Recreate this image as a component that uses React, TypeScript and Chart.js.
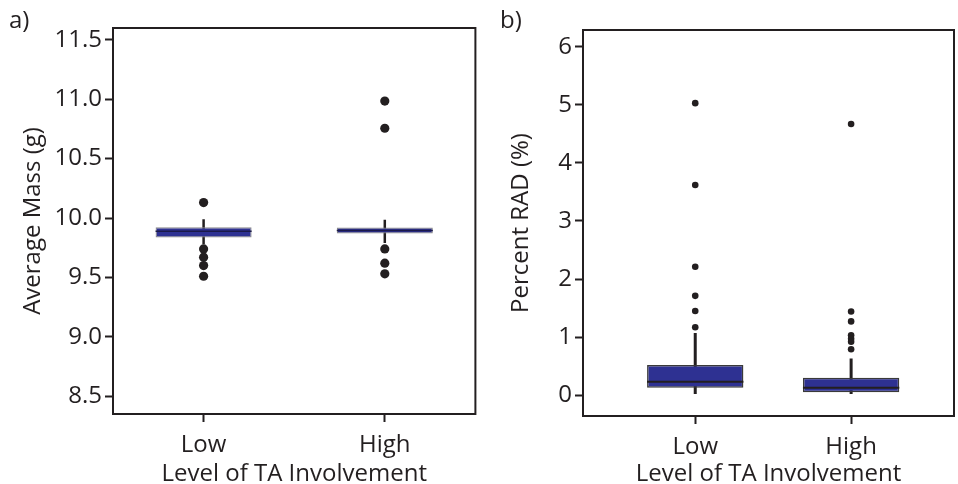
import React, { useEffect, useRef } from "react";
import { Chart, registerables } from "chart.js";

Chart.register(...registerables);

// ---------- data ----------
const CATEGORIES = ["Low", "High"];

// Panel a: Average Mass (g)
const MASS_Q1 = [9.836, 9.87];
const MASS_MEDIAN = [9.888, 9.895];
const MASS_Q3 = [9.922, 9.92];
const MASS_WHISKER_LOW = [9.78, 9.79];
const MASS_WHISKER_HIGH = [9.99, 9.985];
const MASS_OUTLIERS_LOW = [10.13, 9.74, 9.67, 9.6, 9.51];
const MASS_OUTLIERS_HIGH = [10.985, 10.756, 9.74, 9.62, 9.53];
const MASS_TICKS = [8.5, 9.0, 9.5, 10.0, 10.5, 11.0, 11.5];

// Panel b: Percent RAD (%)
const RAD_Q1 = [0.126, 0.05];
const RAD_MEDIAN = [0.23, 0.126];
const RAD_Q3 = [0.517, 0.3];
const RAD_WHISKER_LOW = [0.02, 0.02];
const RAD_WHISKER_HIGH = [1.07, 0.63];
const RAD_OUTLIERS_LOW = [5.03, 3.62, 2.21, 1.71, 1.45, 1.17];
const RAD_OUTLIERS_HIGH = [4.67, 1.44, 1.27, 1.03, 0.97, 0.92, 0.79];
const RAD_TICKS = [0, 1, 2, 3, 4, 5, 6];

const INK = "#231f20";
const BOX_FILL = "#2e3192";
const FONT = "'Open Sans', 'Noto Sans', sans-serif";
const FS = 24;

type PanelCfg = {
  q1: number[];
  med: number[];
  q3: number[];
  wl: number[];
  wh: number[];
  outLow: number[];
  outHigh: number[];
  yTicks: number[];
  yMin: number;
  yMax: number;
  xMin: number;
  xMax: number;
  boxWidth: number;
  decimals: number;
  title: string;
  yAxisWidth: number;
  xAxisHeight: number;
  padTop: number;
  padRight: number;
  yTitlePad: number;
  pointRadius: number;
  boxBorder: string;
  boxBorderWidth: number;
  medianColor: string;
  medianWidth: number;
  whiskerWidth: number;
};

const framePlugin = {
  id: "frame",
  afterDraw(chart: any) {
    const { ctx, chartArea } = chart;
    ctx.save();
    ctx.strokeStyle = INK;
    ctx.lineWidth = 2;
    ctx.strokeRect(
      chartArea.left,
      chartArea.top,
      chartArea.right - chartArea.left,
      chartArea.bottom - chartArea.top
    );
    ctx.restore();
  },
};

function buildConfig(p: PanelCfg): any {
  const pos = CATEGORIES.map((_, i) => i + 1);
  const half = p.boxWidth / 2;
  const whiskerData: any[] = [];
  const medianData: any[] = [];
  pos.forEach((x, i) => {
    whiskerData.push({ x, y: p.wl[i] }, { x, y: p.wh[i] }, { x, y: null });
    medianData.push({ x: x - half, y: p.med[i] }, { x: x + half, y: p.med[i] }, { x, y: null });
  });
  const outliers = [
    ...p.outLow.map((y) => ({ x: 1, y })),
    ...p.outHigh.map((y) => ({ x: 2, y })),
  ];
  return {
    type: "bar",
    data: {
      datasets: [
        {
          type: "line",
          data: medianData,
          borderColor: p.medianColor,
          borderWidth: p.medianWidth,
          pointRadius: 0,
          spanGaps: false,
          order: 0,
        },
        {
          type: "bar",
          data: pos.map((x, i) => ({ x, y: [p.q1[i], p.q3[i]] })),
          backgroundColor: BOX_FILL,
          borderColor: p.boxBorder,
          borderWidth: p.boxBorderWidth,
          borderSkipped: false,
          categoryPercentage: 1,
          barPercentage: p.boxWidth,
          order: 1,
        },
        {
          type: "line",
          data: whiskerData,
          borderColor: INK,
          borderWidth: p.whiskerWidth,
          pointRadius: 0,
          spanGaps: false,
          order: 2,
        },
        {
          type: "line",
          data: outliers,
          showLine: false,
          pointRadius: p.pointRadius,
          pointBackgroundColor: INK,
          pointBorderWidth: 0,
          order: 3,
        },
      ],
    },
    options: {
      animation: false,
      responsive: false,
      layout: { padding: { top: p.padTop, right: p.padRight, left: 0, bottom: 0 } },
      plugins: { legend: { display: false }, tooltip: { enabled: false } },
      scales: {
        x: {
          type: "linear",
          offset: false,
          min: p.xMin,
          max: p.xMax,
          afterBuildTicks: (s: any) => {
            s.ticks = pos.map((v) => ({ value: v }));
          },
          afterFit: (s: any) => {
            s.height = p.xAxisHeight;
          },
          ticks: {
            callback: (v: any) => CATEGORIES[Math.round(v) - 1],
            color: INK,
            font: { family: FONT, size: FS },
            padding: 9,
            maxRotation: 0,
          },
          grid: {
            offset: false,
            drawOnChartArea: false,
            drawTicks: true,
            tickLength: 8,
            tickWidth: 2,
            tickColor: INK,
          },
          border: { display: false },
          title: {
            display: true,
            text: "Level of TA Involvement",
            color: INK,
            font: { family: FONT, size: FS },
            padding: { top: 0, bottom: -5 },
          },
        },
        y: {
          type: "linear",
          min: p.yMin,
          max: p.yMax,
          afterBuildTicks: (s: any) => {
            s.ticks = p.yTicks.map((v) => ({ value: v }));
          },
          afterFit: (s: any) => {
            s.width = p.yAxisWidth;
          },
          ticks: {
            callback: (v: any) => Number(v).toFixed(p.decimals),
            color: INK,
            font: { family: FONT, size: FS },
            padding: 3,
          },
          grid: {
            drawOnChartArea: false,
            drawTicks: true,
            tickLength: 8,
            tickWidth: 2,
            tickColor: INK,
          },
          border: { display: false },
          title: {
            display: true,
            text: p.title,
            color: INK,
            font: { family: FONT, size: FS },
            padding: { top: p.yTitlePad, bottom: 0 },
          },
        },
      },
    },
    plugins: [framePlugin],
  };
}

const PANEL_A: PanelCfg = {
  q1: MASS_Q1,
  med: MASS_MEDIAN,
  q3: MASS_Q3,
  wl: MASS_WHISKER_LOW,
  wh: MASS_WHISKER_HIGH,
  outLow: MASS_OUTLIERS_LOW,
  outHigh: MASS_OUTLIERS_HIGH,
  yTicks: MASS_TICKS,
  yMin: 8.35,
  yMax: 11.6,
  xMin: 0.5,
  xMax: 2.5,
  boxWidth: 0.53,
  decimals: 1,
  title: "Average Mass (g)",
  yAxisWidth: 113,
  xAxisHeight: 70,
  padTop: 28,
  padRight: 2,
  yTitlePad: 19,
  pointRadius: 4.6,
  boxBorder: "#8a8a8e",
  boxBorderWidth: 1.2,
  medianColor: "#1b1a4a",
  medianWidth: 1.5,
  whiskerWidth: 2.5,
};

const PANEL_B: PanelCfg = {
  q1: RAD_Q1,
  med: RAD_MEDIAN,
  q3: RAD_Q3,
  wl: RAD_WHISKER_LOW,
  wh: RAD_WHISKER_HIGH,
  outLow: RAD_OUTLIERS_LOW,
  outHigh: RAD_OUTLIERS_HIGH,
  yTicks: RAD_TICKS,
  yMin: -0.36,
  yMax: 6.29,
  xMin: 0.28,
  xMax: 2.66,
  boxWidth: 0.618,
  decimals: 0,
  title: "Percent RAD (%)",
  yAxisWidth: 103,
  xAxisHeight: 68,
  padTop: 30,
  padRight: 1,
  yTitlePad: 27,
  pointRadius: 3.3,
  boxBorder: "#3a3a3a",
  boxBorderWidth: 1.5,
  medianColor: INK,
  medianWidth: 2,
  whiskerWidth: 3,
};

function Panel({ cfg, left, width, label }: { cfg: PanelCfg; left: number; width: number; label: string }) {
  const ref = useRef<HTMLCanvasElement | null>(null);
  useEffect(() => {
    if (!ref.current) return;
    const chart = new Chart(ref.current, buildConfig(cfg));
    return () => chart.destroy();
  }, [cfg]);
  return (
    <div style={{ position: "absolute", left, top: 0, width, height: 484 }}>
      <canvas ref={ref} width={width} height={484} style={{ display: "block" }} />
      <div
        style={{
          position: "absolute",
          left: label === "a)" ? 9 : 20,
          top: 4,
          fontFamily: FONT,
          fontSize: 24,
          color: INK,
          lineHeight: "30px",
        }}
      >
        {label}
      </div>
    </div>
  );
}

export default function App() {
  useEffect(() => {
    document.body.style.margin = "0";
  }, []);
  return (
    <div style={{ position: "absolute", left: 0, top: 0, width: 958, height: 484, background: "#fff", overflow: "hidden" }}>
      <Panel cfg={PANEL_A} left={0} width={480} label="a)" />
      <Panel cfg={PANEL_B} left={480} width={478} label="b)" />
    </div>
  );
}
